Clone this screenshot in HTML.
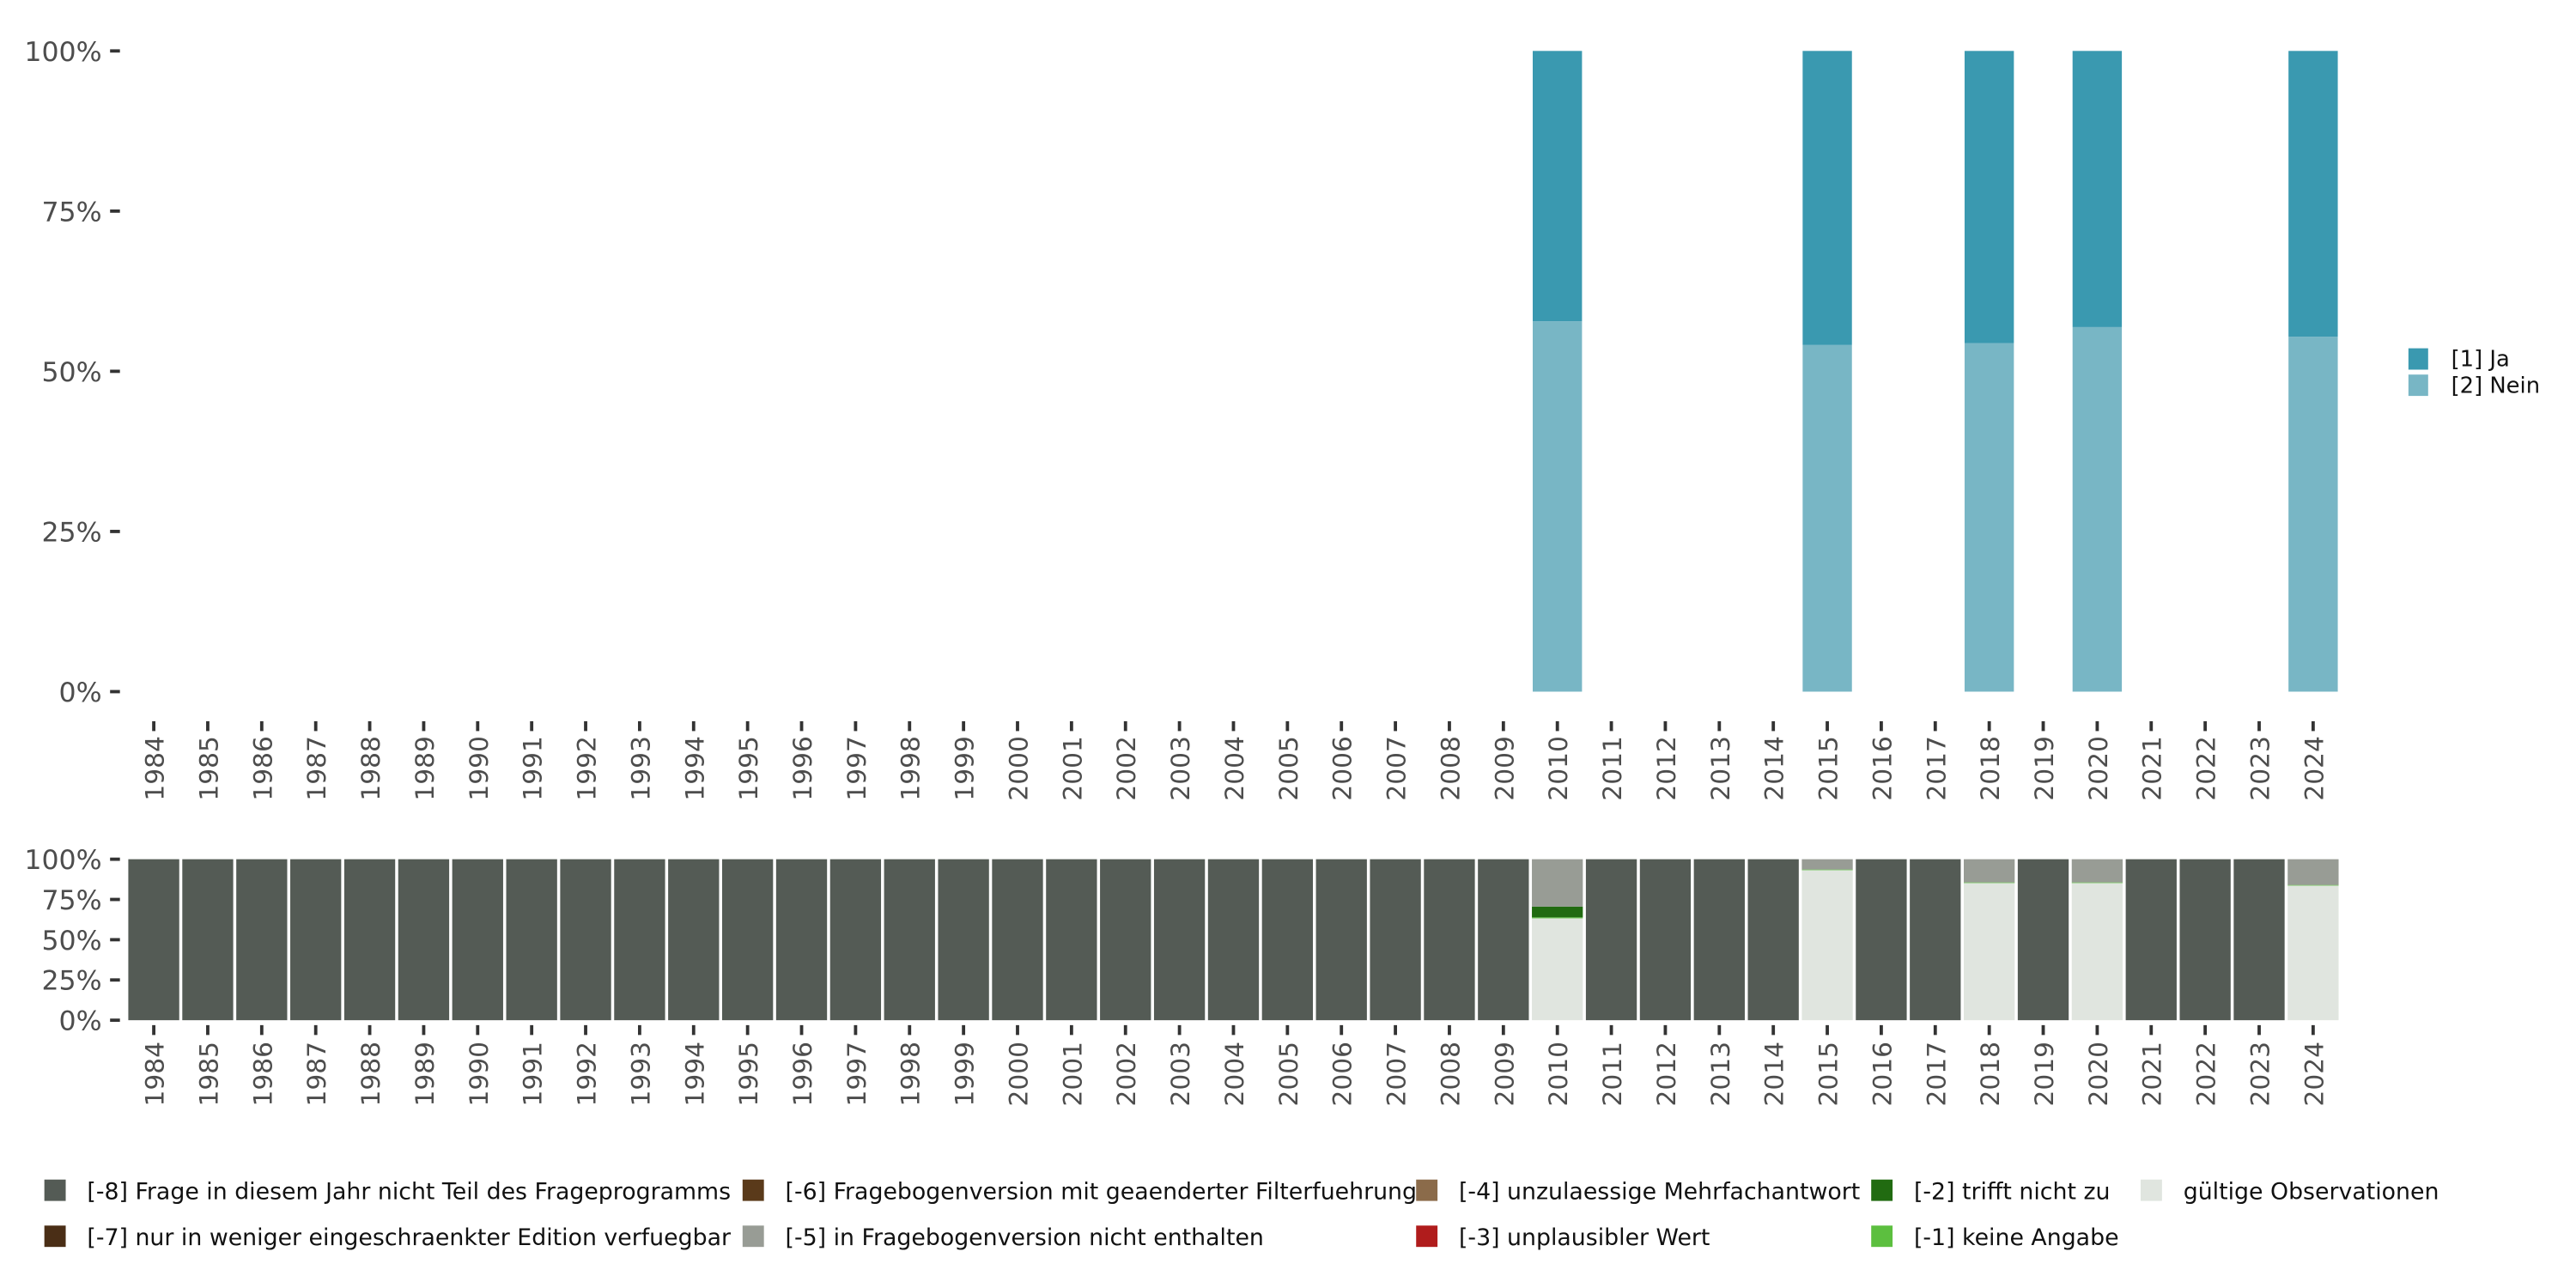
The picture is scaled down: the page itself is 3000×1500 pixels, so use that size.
<!DOCTYPE html>
<html><head><meta charset="utf-8"><style>
html,body{margin:0;padding:0;background:#fff;}
svg{display:block;font-family:"DejaVu Sans","Liberation Sans",sans-serif;}
</style></head><body>
<svg id="chart" width="3000" height="1500" viewBox="0 0 1568 784" xmlns="http://www.w3.org/2000/svg">
<g id="top"></g>
<g id="bot"></g>
<g id="toplegend"></g>
<g id="botlegend"></g>
</svg>
<script>
const years = [];
for (let y = 1984; y <= 2024; y++) years.push(y);
const topYears = [2010, 2015, 2018, 2020, 2024];
const neinShare = [57.8, 54.1, 54.4, 56.9, 55.4];
const jaShare = [42.2, 45.9, 45.6, 43.1, 44.6];
const validYears = [2010, 2015, 2018, 2020, 2024];
const validShare = [63.3, 93.2, 85.2, 85.2, 83.6];
const keineShare = [0.6, 0.4, 0.4, 0.4, 0.4];
const trifftShare = [6.7, 0, 0, 0, 0];
const notInVersionShare = [29.4, 6.4, 14.4, 14.4, 16.0];
const yTicks = [0, 25, 50, 75, 100];
const yTickLabels = ["0%", "25%", "50%", "75%", "100%"];

const NS = "http://www.w3.org/2000/svg";
function mk(tag, attrs, parent, text) {
  const e = document.createElementNS(NS, tag);
  for (const k in attrs) e.setAttribute(k, attrs[k]);
  if (text !== undefined) e.textContent = text;
  parent.appendChild(e);
  return e;
}
const x0 = 93.6, step = 32.86, bw = 30;
function xs(year) { return x0 + (year - 1984) * step; }
const topG = document.getElementById('top');
const botG = document.getElementById('bot');
function ysTop(v) { return 421 - v / 100 * 390; }
function ysBot(v) { return 621 - v / 100 * 98; }

yTicks.forEach((t, i) => {
  const y = ysTop(t);
  const l = mk('line', {x1: 67, x2: 73, y1: y, y2: y, stroke: '#333', 'stroke-width': 2}, topG);
  
  
  const tx = mk('text', {x: 62, y: y + 6, 'text-anchor': 'end', 'font-size': 16.5, fill: '#4d4d4d'}, topG, yTickLabels[i]);
  
  
});
yTicks.forEach((t, i) => {
  const y = ysBot(t);
  const l = mk('line', {x1: 67, x2: 73, y1: y, y2: y, stroke: '#333', 'stroke-width': 2}, botG);
  
  
  const tx = mk('text', {x: 62, y: y + 6, 'text-anchor': 'end', 'font-size': 16.5, fill: '#4d4d4d'}, botG, yTickLabels[i]);
  
  
});
years.forEach(yr => {
  const cx = xs(yr);
  const t1 = mk('line', {x1: cx, x2: cx, y1: 439, y2: 445, stroke: '#333', 'stroke-width': 2}, topG);
  
  
  const l1 = mk('text', {transform: `translate(${cx + 6},448) rotate(-90)`, 'text-anchor': 'end', 'font-size': 15.5, fill: '#4d4d4d'}, topG, String(yr));
  
  
  const t2 = mk('line', {x1: cx, x2: cx, y1: 624, y2: 630, stroke: '#333', 'stroke-width': 2}, botG);
  
  
  const l2 = mk('text', {transform: `translate(${cx + 6},634) rotate(-90)`, 'text-anchor': 'end', 'font-size': 15.5, fill: '#4d4d4d'}, botG, String(yr));
  
  
});
topYears.forEach((yr, i) => {
  const x = xs(yr) - bw / 2;
  const n = mk('rect', {x: x, width: bw, y: ysTop(neinShare[i]), height: ysTop(0) - ysTop(neinShare[i]), fill: '#78b6c5'}, topG);
  
  
  const top = neinShare[i] + jaShare[i];
  const j = mk('rect', {x: x, width: bw, y: ysTop(top), height: ysTop(neinShare[i]) - ysTop(top), fill: '#3a99b0'}, topG);
  
  
});
years.forEach(yr => {
  const x = xs(yr) - 30 / 2 - 0.5;
  const w = 31;
  const k = validYears.indexOf(yr);
  if (k < 0) {
    const r = mk('rect', {x: x, width: w, y: ysBot(100), height: ysBot(0) - ysBot(100), fill: '#545b55'}, botG);
    
    
    return;
  }
  let acc = 0;
  const segs = [[validShare[k], '#e0e5df', 'valid'], [keineShare[k], '#5cbf3f', 'keine-angabe'], [trifftShare[k], '#216b11', 'trifft-nicht-zu'], [notInVersionShare[k], '#989c95', 'not-in-version']];
  segs.forEach(s => {
    if (s[0] <= 0) return;
    const r = mk('rect', {x: x, width: w, y: ysBot(acc + s[0]), height: ysBot(acc) - ysBot(acc + s[0]), fill: s[1]}, botG);
    
    
    acc += s[0];
  });
});
const tl = document.getElementById('toplegend');
[['[1] Ja', '#3a99b0', 212], ['[2] Nein', '#78b6c5', 228]].forEach(e => {
  const r = mk('rect', {x: 1466, y: e[2], width: 12, height: 13, fill: e[1]}, tl);
  
  
  const t = mk('text', {x: 1492, y: e[2] + 11, 'font-size': 13.5, fill: '#111'}, tl, e[0]);
  
  
});
const bl = document.getElementById('botlegend');
const legItems = [
  [27, 718, '#545b55', '[-8] Frage in diesem Jahr nicht Teil des Frageprogramms'],
  [27, 746, '#4a2e16', '[-7] nur in weniger eingeschraenkter Edition verfuegbar'],
  [452, 718, '#5a3a1a', '[-6] Fragebogenversion mit geaenderter Filterfuehrung'],
  [452, 746, '#989c95', '[-5] in Fragebogenversion nicht enthalten'],
  [862, 718, '#8b6b4a', '[-4] unzulaessige Mehrfachantwort'],
  [862, 746, '#b01c1c', '[-3] unplausibler Wert'],
  [1139, 718, '#216b11', '[-2] trifft nicht zu'],
  [1139, 746, '#5cbf3f', '[-1] keine Angabe'],
  [1303, 718, '#e0e5df', 'gültige Observationen']
];
legItems.forEach(e => {
  const r = mk('rect', {x: e[0], y: e[1], width: 13, height: 13, fill: e[2]}, bl);
  
  
  const t = mk('text', {x: e[0] + 26, y: e[1] + 12, 'font-size': 14, fill: '#111'}, bl, e[3]);
  
  
});
</script>
</body></html>
